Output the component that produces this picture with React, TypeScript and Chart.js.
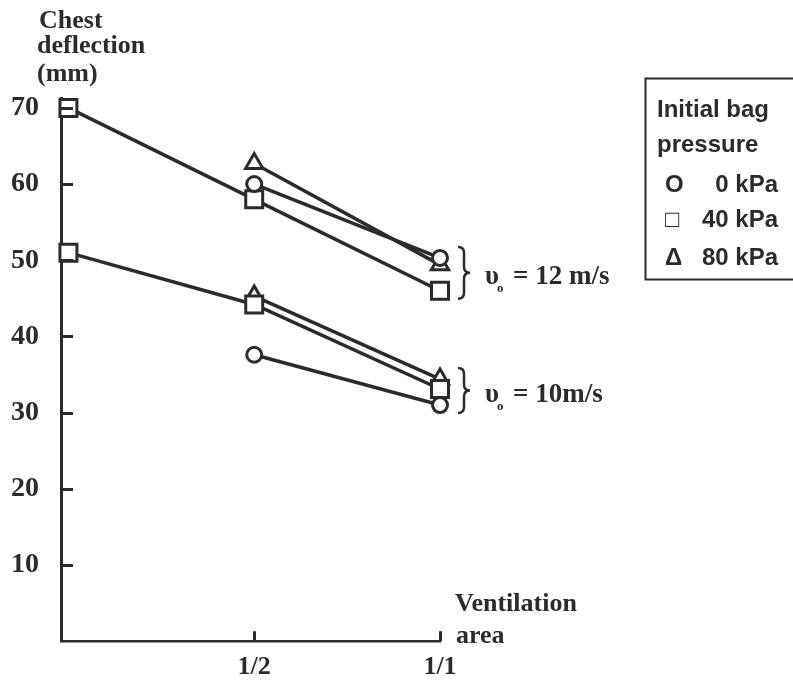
import React, { useEffect, useRef } from 'react';
import { Chart, registerables } from 'chart.js';

Chart.register(...registerables);

// ---- data ----
const xTickValues = [0.5, 1];
const xTickLabels = ['1/2', '1/1'];
const yTickValues = [10, 20, 30, 40, 50, 60, 70];

const pressureLabels = ['0 kPa', '40 kPa', '80 kPa'];
const pressureSymbols = ['O', '\u25A1', '\u0394'];
const pointStyles = ['circle', 'rect', 'triangle'];
const pointRadii = [7.5, 12, 10];

const speedLabels = ['12 m/s', '10m/s'];

// v0 = 12 m/s
const x12_0 = [0.5, 1];
const y12_0 = [60, 50.3];
const x12_40 = [0, 0.5, 1];
const y12_40 = [70, 58, 46];
const x12_80 = [0.5, 1];
const y12_80 = [62.7, 49.4];

// v0 = 10 m/s
const x10_0 = [0.5, 1];
const y10_0 = [37.6, 31];
const x10_40 = [0, 0.5, 1];
const y10_40 = [51, 44.2, 33.1];
const x10_80 = [0.5, 1];
const y10_80 = [45.3, 34.4];

const groups = [
  { xs: [x12_0, x12_40, x12_80], ys: [y12_0, y12_40, y12_80] },
  { xs: [x10_0, x10_40, x10_80], ys: [y10_0, y10_40, y10_80] },
];

const INK = '#2b2b2b';
const SERIF = '"Liberation Serif", "Times New Roman", serif';
const SANS = '"Liberation Sans", Arial, sans-serif';

function drawBrace(ctx: CanvasRenderingContext2D, x: number, top: number, bottom: number, w: number) {
  const mid = (top + bottom) / 2;
  const q = w / 2;
  ctx.beginPath();
  ctx.moveTo(x, top);
  ctx.quadraticCurveTo(x + q, top, x + q, top + q);
  ctx.lineTo(x + q, mid - q);
  ctx.quadraticCurveTo(x + q, mid, x + w, mid);
  ctx.quadraticCurveTo(x + q, mid, x + q, mid + q);
  ctx.lineTo(x + q, bottom - q);
  ctx.quadraticCurveTo(x + q, bottom, x, bottom);
  ctx.stroke();
}

const decorPlugin = {
  id: 'decor',
  afterDraw(chart: any) {
    const { ctx, chartArea } = chart;
    const xs = chart.scales.x;
    const ys = chart.scales.y;
    ctx.save();
    ctx.strokeStyle = INK;
    ctx.fillStyle = INK;
    ctx.lineCap = 'butt';

    // inner tick marks
    ctx.lineWidth = 3;
    yTickValues.forEach((v) => {
      const py = Math.round(ys.getPixelForValue(v)) + 0.5;
      ctx.beginPath();
      ctx.moveTo(chartArea.left, py);
      ctx.lineTo(chartArea.left + 12, py);
      ctx.stroke();
    });
    xTickValues.forEach((v) => {
      const px = Math.round(xs.getPixelForValue(v)) + 0.5;
      ctx.beginPath();
      ctx.moveTo(px, chartArea.bottom);
      ctx.lineTo(px, chartArea.bottom - 10);
      ctx.stroke();
    });

    // y-axis title
    ctx.font = `bold 26px ${SERIF}`;
    ctx.textAlign = 'left';
    ctx.textBaseline = 'alphabetic';
    ctx.fillText('Chest', 39, 28);
    ctx.fillText('deflection', 37, 53);
    ctx.fillText('(mm)', 37, 81);

    // x-axis title
    ctx.fillText('Ventilation', 455, 611);
    ctx.fillText('area', 456, 643);

    // braces + speed labels
    groups.forEach((g, gi) => {
      const lastYs = g.ys.map((arr) => arr[arr.length - 1]);
      const top = ys.getPixelForValue(Math.max(...lastYs)) - 11;
      const bottom = ys.getPixelForValue(Math.min(...lastYs)) + 8;
      const bx = xs.getPixelForValue(1) + 18;
      ctx.lineWidth = 2.5;
      drawBrace(ctx, bx, top, bottom, 12);
      const mid = (top + bottom) / 2;
      const base = mid + 11;
      ctx.font = `bold 27px ${SERIF}`;
      ctx.fillText('\u03C5', bx + 27, base);
      ctx.font = `bold 13px ${SERIF}`;
      ctx.fillText('o', bx + 39, base + 8);
      ctx.font = `bold 27px ${SERIF}`;
      ctx.fillText('= ' + speedLabels[gi], bx + 55, base);
    });

    // legend box
    ctx.lineWidth = 2;
    ctx.strokeRect(645.5, 78.5, 160, 201);
    ctx.font = `bold 24px ${SANS}`;
    ctx.fillText('Initial bag', 657, 117);
    ctx.fillText('pressure', 657, 152);
    const rowBase = [192, 227, 265];
    pressureLabels.forEach((lab, i) => {
      ctx.font = `bold 24px ${SANS}`;
      ctx.textAlign = 'left';
      ctx.fillText(pressureSymbols[i], 665, rowBase[i]);
      ctx.textAlign = 'right';
      ctx.fillText(lab, 778, rowBase[i]);
    });
    ctx.restore();
  },
};

export default function App() {
  const ref = useRef<HTMLCanvasElement | null>(null);
  useEffect(() => {
    if (!ref.current) return;
    const datasets: any[] = [];
    groups.forEach((g) => {
      g.xs.forEach((xarr, pi) => {
        datasets.push({
          label: pressureLabels[pi],
          data: xarr.map((x, i) => ({ x, y: g.ys[pi][i] })),
          borderColor: INK,
          backgroundColor: '#ffffff',
          borderWidth: 3.5,
          pointStyle: pointStyles[pi],
          pointRadius: pointRadii[pi],
          pointBorderWidth: 3,
          pointBorderColor: INK,
          pointBackgroundColor: '#ffffff',
          tension: 0,
          clip: false,
        });
      });
    });
    const chart = new Chart(ref.current, {
      type: 'line',
      data: { datasets },
      options: {
        animation: false,
        responsive: false,
        devicePixelRatio: 1,
        layout: { padding: { left: 0, top: 98, right: 353, bottom: 0 } },
        plugins: { legend: { display: false }, tooltip: { enabled: false } },
        scales: {
          x: {
            type: 'linear',
            min: -0.02,
            max: 1,
            afterFit: (s: any) => { s.height = 37; },
            afterBuildTicks: (s: any) => { s.ticks = xTickValues.map((v) => ({ value: v })); },
            grid: { display: false, drawTicks: false },
            border: { display: true, color: INK, width: 2.5 },
            ticks: {
              padding: 10,
              color: INK,
              font: { family: SERIF, size: 26, weight: 'bold' },
              callback: (v: any) => {
                const i = xTickValues.indexOf(Number(v));
                return i >= 0 ? xTickLabels[i] : '';
              },
              maxRotation: 0,
              autoSkip: false,
            },
          },
          y: {
            type: 'linear',
            min: 0,
            max: 71.3,
            afterFit: (s: any) => { s.width = 61; },
            afterBuildTicks: (s: any) => { s.ticks = yTickValues.map((v) => ({ value: v })); },
            grid: { display: false, drawTicks: false },
            border: { display: true, color: INK, width: 3 },
            ticks: {
              padding: 22,
              color: INK,
              font: { family: SERIF, size: 28, weight: 'bold' },
              autoSkip: false,
            },
          },
        },
      },
      plugins: [decorPlugin],
    });
    return () => chart.destroy();
  }, []);
  return (
    <div style={{ position: 'fixed', left: 0, top: 0, width: 793, height: 680, background: '#fff' }}>
      <canvas ref={ref} width={793} height={680} style={{ display: 'block' }} />
    </div>
  );
}
